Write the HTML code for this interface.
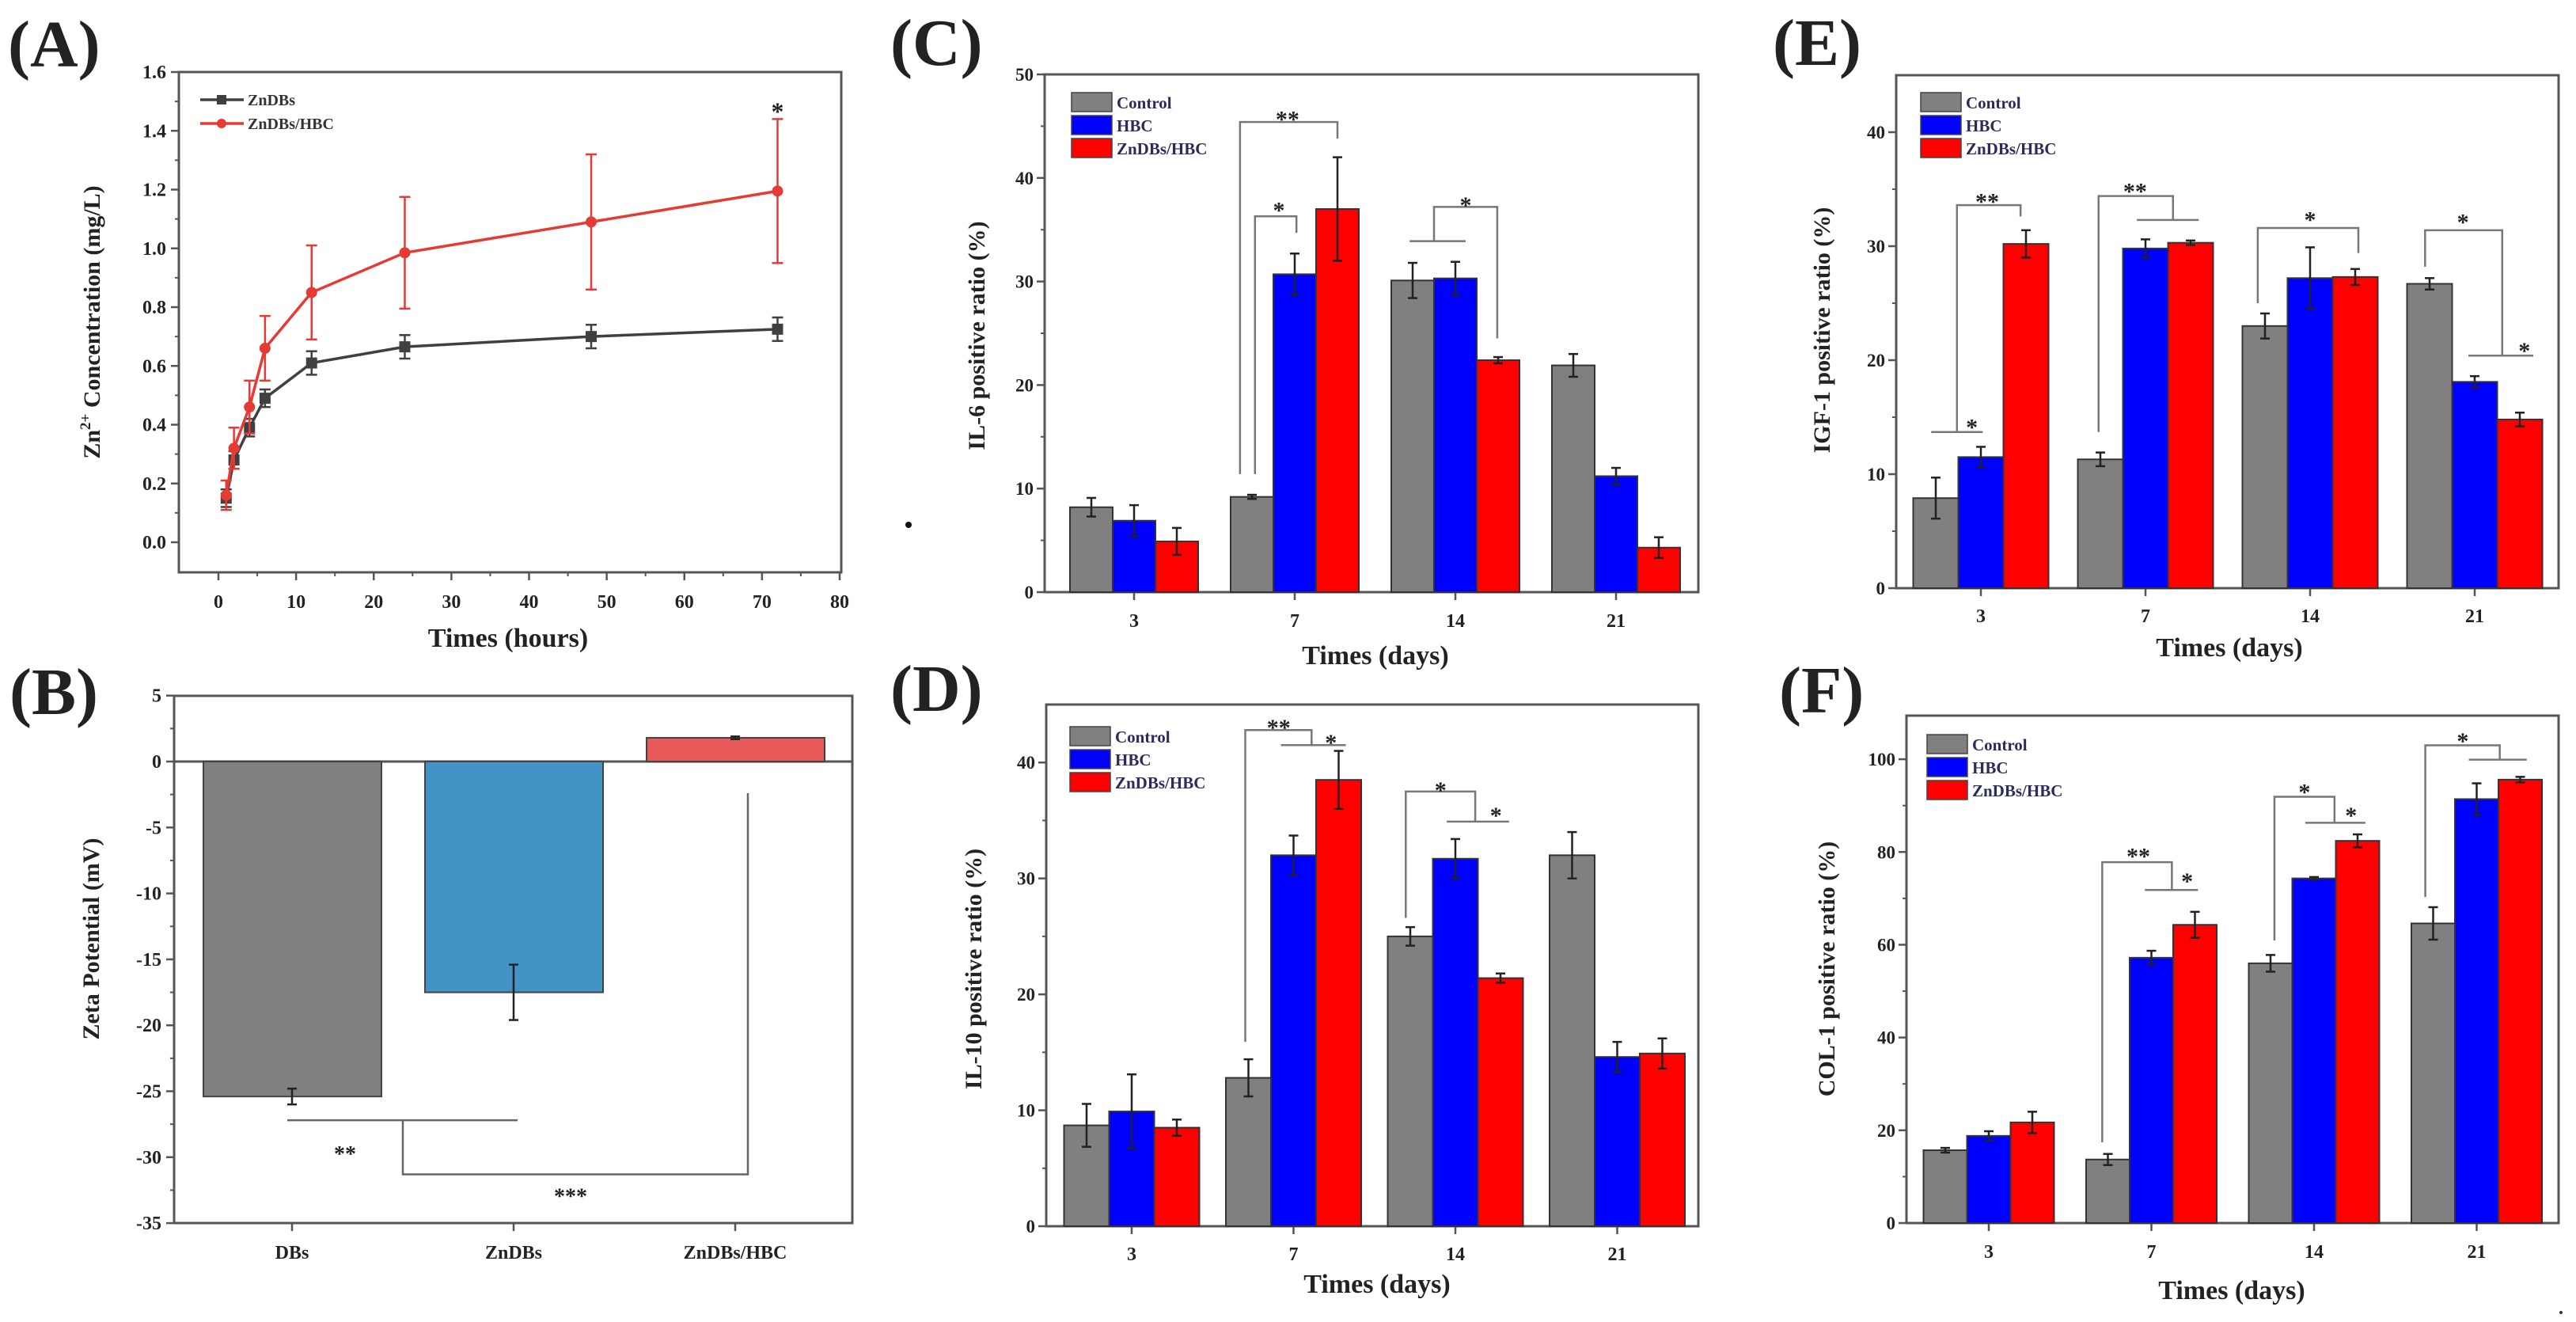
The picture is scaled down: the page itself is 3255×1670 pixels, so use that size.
<!DOCTYPE html>
<html><head><meta charset="utf-8">
<style>
html,body{margin:0;padding:0;background:#fff;}
svg{display:block;font-family:"Liberation Serif",serif;font-weight:bold;}
</style></head>
<body>
<svg id="fig" width="3255" height="1670" viewBox="0 0 3255 1670" xmlns="http://www.w3.org/2000/svg"></svg>
<script>
// ---------- Panel A data ----------
const hours = [1, 2, 4, 6, 12, 24, 48, 72];
const znDBsConc = [0.15, 0.28, 0.39, 0.49, 0.61, 0.665, 0.70, 0.725];
const znDBsErr = [0.03, 0.03, 0.03, 0.03, 0.04, 0.04, 0.04, 0.04];
const znHbcConc = [0.16, 0.32, 0.46, 0.66, 0.85, 0.985, 1.09, 1.195];
const znHbcErr = [0.05, 0.07, 0.09, 0.11, 0.16, 0.19, 0.23, 0.245];
const aYTicks = [0.0, 0.2, 0.4, 0.6, 0.8, 1.0, 1.2, 1.4, 1.6];
const aXTicks = [0, 10, 20, 30, 40, 50, 60, 70, 80];
// ---------- Panel B data ----------
const zetaCats = ["DBs", "ZnDBs", "ZnDBs/HBC"];
const zetaVals = [-25.4, -17.5, 1.8];
const zetaErr = [0.6, 2.1, 0.1];
const bYTicks = [5, 0, -5, -10, -15, -20, -25, -30, -35];
// ---------- Shared day categories ----------
const days = ["3", "7", "14", "21"];
const seriesNames = ["Control", "HBC", "ZnDBs/HBC"];
// ---------- Panel C (IL-6) ----------
const il6Control = [8.2, 9.2, 30.1, 21.9];
const il6ControlErr = [0.9, 0.2, 1.7, 1.1];
const il6Hbc = [6.9, 30.7, 30.3, 11.2];
const il6HbcErr = [1.5, 2.0, 1.6, 0.8];
const il6Zn = [4.9, 37.0, 22.4, 4.3];
const il6ZnErr = [1.3, 5.0, 0.3, 1.0];
const cYTicks = [0, 10, 20, 30, 40, 50];
// ---------- Panel D (IL-10) ----------
const il10Control = [8.7, 12.8, 25.0, 32.0];
const il10ControlErr = [1.85, 1.6, 0.8, 2.0];
const il10Hbc = [9.9, 32.0, 31.7, 14.6];
const il10HbcErr = [3.2, 1.7, 1.7, 1.3];
const il10Zn = [8.5, 38.5, 21.4, 14.9];
const il10ZnErr = [0.7, 2.5, 0.4, 1.3];
const dYTicks = [0, 10, 20, 30, 40];
// ---------- Panel E (IGF-1) ----------
const igfControl = [7.9, 11.3, 23.0, 26.7];
const igfControlErr = [1.8, 0.6, 1.1, 0.5];
const igfHbc = [11.5, 29.8, 27.2, 18.1];
const igfHbcErr = [0.9, 0.8, 2.7, 0.5];
const igfZn = [30.2, 30.3, 27.3, 14.8];
const igfZnErr = [1.2, 0.2, 0.7, 0.6];
const eYTicks = [0, 10, 20, 30, 40];
// ---------- Panel F (COL-1) ----------
const colControl = [15.7, 13.7, 56.0, 64.6];
const colControlErr = [0.5, 1.2, 1.8, 3.5];
const colHbc = [18.8, 57.2, 74.3, 91.4];
const colHbcErr = [1.0, 1.5, 0.3, 3.4];
const colZn = [21.7, 64.3, 82.4, 95.6];
const colZnErr = [2.3, 2.8, 1.4, 0.6];
const fYTicks = [0, 20, 40, 60, 80, 100];
// ---------- Significance annotations: [group, dx (bar widths), value] ----------
const cBrackets = [
  [[1,-1.28,11.4],[1,-1.28,45.4],[1,1.0,45.4],[1,1.0,43.8]],
  [[1,-0.93,11.4],[1,-0.93,36.3],[1,0.04,36.3],[1,0.04,34.7]],
  [[2,-1.07,33.9],[2,0.24,33.9]],
  [[2,-0.5,33.9],[2,-0.5,37.2],[2,0.98,37.2],[2,0.98,24.5]]
];
const cStars = [[1,-0.17,46.0,"**"],[1,-0.37,37.2,"*"],[2,0.24,37.7,"*"]];
const dBrackets = [
  [[1,-1.07,15.9],[1,-1.07,42.8],[1,0.4,42.8],[1,0.4,41.5]],
  [[1,-0.28,41.5],[1,1.16,41.5]],
  [[2,-1.1,26.6],[2,-1.1,37.5],[2,0.44,37.5],[2,0.44,34.9]],
  [[2,-0.19,34.9],[2,1.19,34.9]]
];
const dStars = [[1,-0.33,43.3,"**"],[1,0.83,42.0,"*"],[2,-0.33,37.9,"*"],[2,0.9,35.7,"*"]];
const eBrackets = [
  [[0,-1.1,13.7],[0,0.04,13.7]],
  [[0,-0.53,13.7],[0,-0.53,33.6],[0,0.88,33.6],[0,0.88,32.6]],
  [[1,-1.04,13.7],[1,-1.04,34.4],[1,0.61,34.4],[1,0.61,32.3]],
  [[1,-0.19,32.3],[1,1.18,32.3]],
  [[2,-1.16,25.0],[2,-1.16,31.6],[2,1.07,31.6],[2,1.07,29.4]],
  [[3,-1.1,28.2],[3,-1.1,31.4],[3,0.61,31.4],[3,0.61,20.4]],
  [[3,-0.14,20.4],[3,1.3,20.4]]
];
const eStars = [[0,-0.2,14.4,"*"],[0,0.14,34.2,"**"],[1,-0.23,35.1,"**"],[2,0,32.6,"*"],[3,-0.26,32.4,"*"],[3,1.1,21.1,"*"]];
const fBrackets = [
  [[1,-1.13,17.4],[1,-1.13,77.8],[1,0.47,77.8],[1,0.47,71.8]],
  [[1,-0.15,71.8],[1,1.07,71.8]],
  [[2,-0.91,60.9],[2,-0.91,91.9],[2,0.47,91.9],[2,0.47,86.3]],
  [[2,-0.2,86.3],[2,1.18,86.3]],
  [[3,-1.18,70.3],[3,-1.18,103],[3,0.53,103],[3,0.53,99.9]],
  [[3,-0.18,99.9],[3,1.15,99.9]]
];
const fStars = [[1,-0.3,79.8,"**"],[1,0.82,74.4,"*"],[2,-0.22,93.6,"*"],[2,0.85,88.6,"*"],[3,-0.32,104.6,"*"]];

const NS = "http://www.w3.org/2000/svg";
const svg = document.getElementById("fig");
function el(tag, attrs, parent) {
  const e = document.createElementNS(NS, tag);
  for (const k in attrs) e.setAttribute(k, attrs[k]);
  (parent || svg).appendChild(e);
  return e;
}
function txt(x, y, s, size, anchor, parent, fill) {
  const t = el("text", {x: x, y: y, "font-size": size, "text-anchor": anchor || "middle", fill: fill || "#222"}, parent);
  t.textContent = s;
  return t;
}
const FRAME = "#555";

function panelLabel(x, y, s) {
  const t = txt(x, y, s, 84, "start");
  
  
}

function yTitle(x, y, s, g) {
  const t = txt(0, 0, s, 30, "middle", g);
  t.setAttribute("transform", "translate(" + x + "," + y + ") rotate(-90)");
  
  
  return t;
}

function errBar(g, x, y1, y2, cap, color) {
  el("line", {x1: x, y1: y1, x2: x, y2: y2, stroke: color, "stroke-width": 2.5}, g);
  el("line", {x1: x - cap, y1: y1, x2: x + cap, y2: y1, stroke: color, "stroke-width": 2.5}, g);
  el("line", {x1: x - cap, y1: y2, x2: x + cap, y2: y2, stroke: color, "stroke-width": 2.5}, g);
}

// ================= Panel A =================
(function () {
  const g = el("g", {});
  
  
  const L = 226, R = 1063, T = 91, B = 723;
  const xa = v => 276 + v * (1061 - 276) / 80;
  const ya = v => 685 - v * 371.25;
  el("rect", {x: L, y: T, width: R - L, height: B - T, fill: "none", stroke: FRAME, "stroke-width": 3}, g);
  aYTicks.forEach(v => {
    el("line", {x1: L - 10, y1: ya(v), x2: L, y2: ya(v), stroke: FRAME, "stroke-width": 2.5}, g);
    if (v < 1.55) el("line", {x1: L - 5, y1: ya(v + 0.1), x2: L, y2: ya(v + 0.1), stroke: FRAME, "stroke-width": 2}, g);
    const t = txt(L - 16, ya(v) + 8, v.toFixed(1), 24, "end", g);
    
    
  });
  aXTicks.forEach(v => {
    el("line", {x1: xa(v), y1: B, x2: xa(v), y2: B + 10, stroke: FRAME, "stroke-width": 2.5}, g);
    if (v < 80) el("line", {x1: xa(v + 5), y1: B, x2: xa(v + 5), y2: B + 5, stroke: FRAME, "stroke-width": 2}, g);
    const t = txt(xa(v), 768, String(v), 24, "middle", g);
    
    
  });
  const xt = txt(642, 817, "Times (hours)", 34, "middle", g);
  
  
  const yt = txt(0, 0, "", 30, "middle", g);
  yt.setAttribute("transform", "translate(126,407) rotate(-90)");
  yt.innerHTML = 'Zn<tspan font-size="19" dy="-12">2+</tspan><tspan dy="12"> Concentration (mg/L)</tspan>';
  
  
  const series = [
    {vals: znDBsConc, err: znDBsErr, color: "#404040", marker: "square", name: "znDBs-series"},
    {vals: znHbcConc, err: znHbcErr, color: "#e63a35", marker: "circle", name: "znDBs-hbc-series"}
  ];
  series.forEach(s => {
    const sg = el("g", {}, g);
    
    
    hours.forEach((h, i) => errBar(sg, xa(h), ya(s.vals[i] + s.err[i]), ya(s.vals[i] - s.err[i]), 7, s.color));
    const pts = hours.map((h, i) => xa(h) + "," + ya(s.vals[i])).join(" ");
    el("polyline", {points: pts, fill: "none", stroke: s.color, "stroke-width": 3.5}, sg);
    hours.forEach((h, i) => {
      if (s.marker === "square") {
        const m = el("rect", {x: xa(h) - 7, y: ya(s.vals[i]) - 7, width: 14, height: 14, fill: s.color}, sg);
        
        
      } else {
        const m = el("circle", {cx: xa(h), cy: ya(s.vals[i]), r: 7, fill: s.color}, sg);
        
        
      }
    });
  });
  const st = txt(xa(72), ya(1.47) + 12, "*", 32, "middle", g);
  
  
  const lg = el("g", {}, g);
  
  
  el("line", {x1: 253, y1: 126, x2: 308, y2: 126, stroke: "#404040", "stroke-width": 3.5}, lg);
  el("rect", {x: 274, y: 120, width: 12, height: 12, fill: "#404040"}, lg);
  txt(313, 133, "ZnDBs", 20, "start", lg, "#333");
  el("line", {x1: 253, y1: 156, x2: 308, y2: 156, stroke: "#e63a35", "stroke-width": 3.5}, lg);
  el("circle", {cx: 280, cy: 156, r: 6, fill: "#e63a35"}, lg);
  txt(313, 163, "ZnDBs/HBC", 20, "start", lg, "#333");
})();
panelLabel(10, 84, "(A)");

// ================= Panel B =================
(function () {
  const g = el("g", {});
  
  
  const L = 220, R = 1077, T = 879, B = 1545;
  const yb = v => 962 - v * 16.66;
  const xb = i => 369 + i * 280;
  const colors = ["#808080", "#4393c6", "#e8595a"];
  el("rect", {x: L, y: T, width: R - L, height: B - T, fill: "none", stroke: FRAME, "stroke-width": 3}, g);
  el("line", {x1: L, y1: yb(0), x2: R, y2: yb(0), stroke: FRAME, "stroke-width": 3}, g);
  bYTicks.forEach(v => {
    el("line", {x1: L - 10, y1: yb(v), x2: L, y2: yb(v), stroke: FRAME, "stroke-width": 2.5}, g);
    if (v > -35) el("line", {x1: L - 5, y1: yb(v - 2.5), x2: L, y2: yb(v - 2.5), stroke: FRAME, "stroke-width": 2}, g);
    const t = txt(L - 16, yb(v) + 8, String(v), 24, "end", g);
    
    
  });
  zetaCats.forEach((c, i) => {
    const y0 = yb(0), y1 = yb(zetaVals[i]);
    const bar = el("rect", {x: xb(i) - 112, y: Math.min(y0, y1), width: 225, height: Math.abs(y1 - y0), fill: colors[i], stroke: "#444", "stroke-width": 2}, g);
    
    
    errBar(g, xb(i), yb(zetaVals[i] + zetaErr[i]), yb(zetaVals[i] - zetaErr[i]), 6, "#222");
    el("line", {x1: xb(i), y1: B, x2: xb(i), y2: B + 10, stroke: FRAME, "stroke-width": 2.5}, g);
    const t = txt(xb(i), 1590, c, 24, "middle", g);
    
    
  });
  const sg = el("g", {}, g);
  
  
  el("polyline", {points: [363 + "," + yb(-27.2), 654 + "," + yb(-27.2)].join(" "), fill: "none", stroke: "#666", "stroke-width": 2.5}, sg);
  el("polyline", {points: [509 + "," + yb(-27.2), 509 + "," + yb(-31.3), 945 + "," + yb(-31.3), 945 + "," + yb(-2.4)].join(" "), fill: "none", stroke: "#666", "stroke-width": 2.5}, sg);
  txt(436, yb(-29.6) + 12, "**", 28, "middle", sg);
  txt(721, yb(-32.8) + 12, "***", 28, "middle", sg);
  yTitle(125, 1186, "Zeta Potential (mV)", g);
})();
panelLabel(12, 902, "(B)");

// ================= Bar panels C-F =================
function barPanel(cfg) {
  const g = el("g", {});
  
  
  const {L, R, T, B, ymax, x0, sp, bw} = cfg;
  const ys = v => B - v * (B - T) / ymax;
  const xs = (i, dx) => x0 + i * sp + dx * bw;
  el("rect", {x: L, y: T, width: R - L, height: B - T, fill: "none", stroke: FRAME, "stroke-width": 3}, g);
  const step = cfg.ticks[1] - cfg.ticks[0];
  cfg.ticks.forEach(v => {
    el("line", {x1: L - 10, y1: ys(v), x2: L, y2: ys(v), stroke: FRAME, "stroke-width": 2.5}, g);
    if (v + step / 2 < ymax) el("line", {x1: L - 5, y1: ys(v + step / 2), x2: L, y2: ys(v + step / 2), stroke: FRAME, "stroke-width": 2}, g);
    const t = txt(L - 14, ys(v) + 8, String(v), 23, "end", g);
    
    
  });
  const colors = ["#808080", "#0000ff", "#ff0000"];
  days.forEach((d, i) => {
    el("line", {x1: xs(i, 0), y1: B, x2: xs(i, 0), y2: B + 10, stroke: FRAME, "stroke-width": 2.5}, g);
    const t = txt(xs(i, 0), cfg.tickY, d, 24, "middle", g);
    
    
  });
  cfg.series.forEach((s, k) => {
    const sg = el("g", {}, g);
    
    
    s.vals.forEach((v, i) => {
      const cx = xs(i, k - 1);
      const bar = el("rect", {x: cx - bw / 2, y: ys(v), width: bw, height: B - ys(v), fill: colors[k], stroke: "#333", "stroke-width": 2}, sg);
      
      
      errBar(sg, cx, ys(v + s.err[i]), ys(v - s.err[i]), 6, "#222");
    });
  });
  const bg = el("g", {}, g);
  
  
  cfg.brackets.forEach(br => {
    el("polyline", {points: br.map(p => xs(p[0], p[1]) + "," + ys(p[2])).join(" "), fill: "none", stroke: "#777", "stroke-width": 2.5}, bg);
  });
  cfg.stars.forEach(s => {
    const t = txt(xs(s[0], s[1]), ys(s[2]) + 14, s[3], 30, "middle", bg);
    
    
  });
  const lg = el("g", {}, g);
  
  
  seriesNames.forEach((n, k) => {
    const y = cfg.legY + k * 29;
    el("rect", {x: cfg.legX, y: y, width: 51, height: 24, fill: colors[k], stroke: "#444", "stroke-width": 1.5}, lg);
    const t = txt(cfg.legX + 57, y + 20, n, 21, "start", lg, "#2c2c5c");
    
    
  });
  const xt = txt(cfg.titleX, cfg.titleY, "Times (days)", 34, "middle", g);
  
  
  yTitle(cfg.yTitleX, cfg.yTitleY, cfg.yTitle, g);
}

barPanel({name: "panel-c-il6", L: 1320, R: 2146, T: 94, B: 748, ymax: 50, x0: 1433, sp: 203, bw: 54,
  ticks: cYTicks, tickY: 792, titleX: 1738, titleY: 839, legX: 1354, legY: 117,
  yTitle: "IL-6 positive ratio (%)", yTitleX: 1244, yTitleY: 424,
  series: [{vals: il6Control, err: il6ControlErr}, {vals: il6Hbc, err: il6HbcErr}, {vals: il6Zn, err: il6ZnErr}],
  brackets: cBrackets, stars: cStars});
barPanel({name: "panel-d-il10", L: 1322, R: 2146, T: 890, B: 1549, ymax: 45, x0: 1430, sp: 204.5, bw: 57,
  ticks: dYTicks, tickY: 1592, titleX: 1740, titleY: 1633, legX: 1352, legY: 918,
  yTitle: "IL-10 positive ratio (%)", yTitleX: 1240, yTitleY: 1224,
  series: [{vals: il10Control, err: il10ControlErr}, {vals: il10Hbc, err: il10HbcErr}, {vals: il10Zn, err: il10ZnErr}],
  brackets: dBrackets, stars: dStars});
barPanel({name: "panel-e-igf1", L: 2396, R: 3233, T: 95, B: 743, ymax: 45, x0: 2503, sp: 208, bw: 57,
  ticks: eYTicks, tickY: 786, titleX: 2817, titleY: 829, legX: 2427, legY: 117,
  yTitle: "IGF-1 positive ratio (%)", yTitleX: 2312, yTitleY: 417,
  series: [{vals: igfControl, err: igfControlErr}, {vals: igfHbc, err: igfHbcErr}, {vals: igfZn, err: igfZnErr}],
  brackets: eBrackets, stars: eStars});
barPanel({name: "panel-f-col1", L: 2409, R: 3233, T: 904, B: 1545, ymax: 109.4, x0: 2513, sp: 205.5, bw: 55,
  ticks: fYTicks, tickY: 1589, titleX: 2820, titleY: 1641, legX: 2435, legY: 928,
  yTitle: "COL-1 positive ratio (%)", yTitleX: 2318, yTitleY: 1224,
  series: [{vals: colControl, err: colControlErr}, {vals: colHbc, err: colHbcErr}, {vals: colZn, err: colZnErr}],
  brackets: fBrackets, stars: fStars});

panelLabel(1125, 82, "(C)");
panelLabel(1125, 898, "(D)");
panelLabel(2240, 82, "(E)");
panelLabel(2248, 900, "(F)");
const dot1 = el("circle", {cx: 1148, cy: 663, r: 4, fill: "#111"});


const dot2 = el("circle", {cx: 3236, cy: 1658, r: 2, fill: "#333"});


</script>
</body></html>
